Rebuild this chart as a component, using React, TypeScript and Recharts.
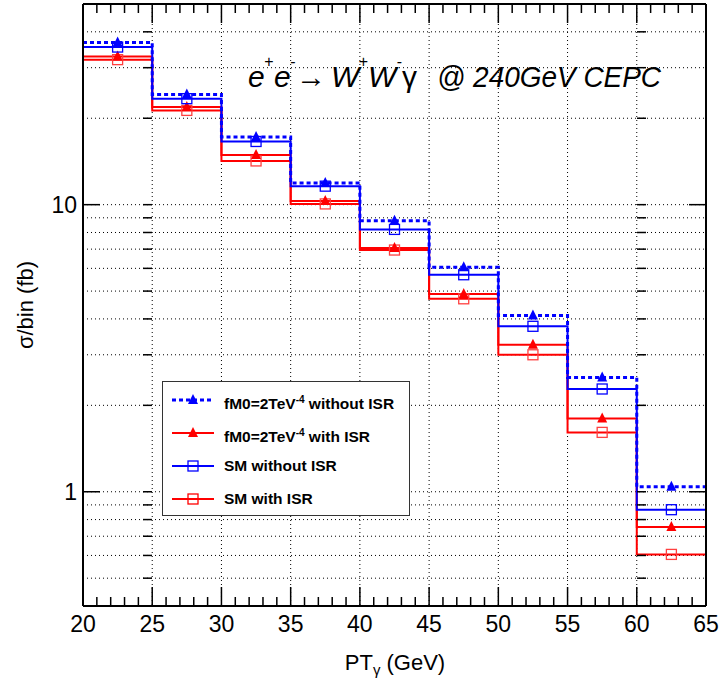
import React from 'react';
import { ComposedChart, Line, XAxis, YAxis, CartesianGrid } from 'recharts';

// bin edges / centres in GeV
const binEdges = [20, 25, 30, 35, 40, 45, 50, 55, 60, 65];
const binCenters = [22.5, 27.5, 32.5, 37.5, 42.5, 47.5, 52.5, 57.5, 62.5];

// sigma per bin (fb)
const fm0NoIsr = [36.7, 24.2, 17.2, 11.9, 8.79, 6.05, 4.11, 2.5, 1.04];
const fm0Isr = [32.8, 21.9, 14.9, 10.3, 7.06, 4.88, 3.25, 1.8, 0.754];
const smNoIsr = [35.4, 23.4, 16.6, 11.6, 8.2, 5.7, 3.77, 2.28, 0.866];
const smIsr = [32.0, 21.3, 14.2, 10.06, 6.95, 4.7, 3.0, 1.61, 0.605];

const xMajorTicks = [20, 25, 30, 35, 40, 45, 50, 55, 60, 65];
const xGridLines = [25, 30, 35, 40, 45, 50, 55, 60];
const xMinorTicks = Array.from({ length: 46 }, (_, i) => 20 + i);
const yMajorTicks = [1, 10];
const yMinorTicks = [0.5, 0.6, 0.7, 0.8, 0.9, 1, 2, 3, 4, 5, 6, 7, 8, 9, 10, 20, 30, 40];

const FONT = '"Liberation Sans", Arial, Helvetica, sans-serif';
const BLUE = '#0000ff';
const RED = '#ff0000';

// plot frame, from the chart margins / axis sizes below
const PLOT_L = 83;
const PLOT_R = 706;
const PLOT_T = 4;
const PLOT_B = 606;

const yDomain: [number, number] = [0.4, 50];
const xDomain: [number, number] = [20, 65];
const xPx = (v: number) => PLOT_L + ((v - xDomain[0]) / (xDomain[1] - xDomain[0])) * (PLOT_R - PLOT_L);

// histogram outline: one point per left edge, last value repeated at the end
const toSteps = (vals: number[]) =>
    binEdges.map((x, i) => ({ x, y: vals[Math.min(i, vals.length - 1)] }));
const toMarkers = (vals: number[]) => binCenters.map((x, i) => ({ x, y: vals[i] }));

const triangle = (color: string) => (p: any) => {
    const { cx, cy, index } = p;
    if (cx == null || cy == null) return <g key={`t${index}`} />;
    return (
        <polygon
            key={`t${index}`}
            points={`${cx},${cy - 6} ${cx - 5},${cy + 4} ${cx + 5},${cy + 4}`}
            fill={color}
        />
    );
};

const square = (color: string) => (p: any) => {
    const { cx, cy, index } = p;
    if (cx == null || cy == null) return <g key={`s${index}`} />;
    return <rect key={`s${index}`} x={cx - 5} y={cy - 5} width={10} height={10} fill="none" stroke={color} strokeWidth={1.3} />;
};

// tick marks only, no label
const NoLabel = () => <g />;

const BottomLabel = (p: any) => (
    <text x={p.x} y={p.y + 10} dy="0.71em" textAnchor="middle" fontSize={23} fontFamily={FONT} fill="#000">
        {p.payload.value}
    </text>
);

const tickStroke = { stroke: '#000', strokeWidth: 1.5 };
const frame = { stroke: '#000', strokeWidth: 2 };
const flat = { dot: false, activeDot: false, isAnimationActive: false, xAxisId: 'x', yAxisId: 'y', dataKey: 'y' } as const;

const LegendRow = ({ top, color, dashed, marker, children }: any) => (
    <div style={{ position: 'absolute', left: 0, top: top - 10, height: 20, width: '100%' }}>
        <svg width={60} height={20} style={{ position: 'absolute', left: 0, top: 0 }}>
            <line x1={9} x2={51} y1={10} y2={10} stroke={color} strokeWidth={dashed ? 3 : 2} strokeDasharray={dashed ? '4 3' : undefined} />
            {marker === 'triangle' ? (
                <polygon points="30,4 25,14 35,14" fill={color} />
            ) : (
                <rect x={25} y={5} width={10} height={10} fill="none" stroke={color} strokeWidth={1.3} />
            )}
        </svg>
        <div style={{ position: 'absolute', left: 61, top: 0, lineHeight: '20px', fontSize: 15.5, fontWeight: 'bold', fontFamily: FONT, whiteSpace: 'nowrap' }}>
            {children}
        </div>
    </div>
);

export default function App() {
    return (
        <div style={{ position: 'absolute', left: 0, top: 0, width: 720, height: 682, background: '#fff' }}>
            {/* vertical grid, x tick marks and top frame, behind the chart */}
            <svg width={720} height={682} style={{ position: 'absolute', left: 0, top: 0 }}>
                {xGridLines.map((g) => (
                    <line key={`g${g}`} x1={xPx(g)} x2={xPx(g)} y1={PLOT_T} y2={PLOT_B} stroke="#000" strokeWidth={1} strokeDasharray="1 3" />
                ))}
                {xMinorTicks.map((t) => {
                    const len = t % 5 === 0 ? 19 : 9;
                    return (
                        <g key={`k${t}`}>
                            <line x1={xPx(t)} x2={xPx(t)} y1={PLOT_B} y2={PLOT_B - len} stroke="#000" strokeWidth={1.5} />
                            <line x1={xPx(t)} x2={xPx(t)} y1={PLOT_T} y2={PLOT_T + len} stroke="#000" strokeWidth={1.5} />
                        </g>
                    );
                })}
                <line x1={PLOT_L} x2={PLOT_R} y1={PLOT_T} y2={PLOT_T} stroke="#000" strokeWidth={2} />
            </svg>

            <ComposedChart width={720} height={682} margin={{ top: PLOT_T, right: 720 - PLOT_R, bottom: 46, left: 0 }}>
                <CartesianGrid xAxisId="x" yAxisId="yMinorL" vertical={false} stroke="#000" strokeDasharray="1 3" strokeWidth={1} />

                <XAxis xAxisId="x" dataKey="x" type="number" domain={xDomain} allowDataOverflow ticks={xMajorTicks} interval={0}
                    tickLine={false} tickSize={0} tickMargin={0} height={30} axisLine={frame} tick={BottomLabel} />

                <YAxis yAxisId="y" type="number" scale="log" domain={yDomain} allowDataOverflow ticks={yMajorTicks} interval={0}
                    tickLine={false} tickSize={0} tickMargin={6} width={PLOT_L} axisLine={frame}
                    tick={{ fill: '#000', fontSize: 23, fontFamily: FONT }} />
                <YAxis yAxisId="yMajL" type="number" scale="log" domain={yDomain} allowDataOverflow ticks={yMajorTicks} interval={0}
                    mirror tickSize={17} tick={NoLabel} axisLine={false} tickLine={tickStroke} />
                <YAxis yAxisId="yMinorL" type="number" scale="log" domain={yDomain} allowDataOverflow ticks={yMinorTicks} interval={0}
                    mirror tickSize={9} tick={NoLabel} axisLine={false} tickLine={tickStroke} />
                <YAxis yAxisId="yMajR" orientation="right" type="number" scale="log" domain={yDomain} allowDataOverflow ticks={yMajorTicks} interval={0}
                    mirror tickSize={17} tick={NoLabel} axisLine={frame} tickLine={tickStroke} />
                <YAxis yAxisId="yMinR" orientation="right" type="number" scale="log" domain={yDomain} allowDataOverflow ticks={yMinorTicks} interval={0}
                    mirror tickSize={9} tick={NoLabel} axisLine={false} tickLine={tickStroke} />

                {/* histogram outlines, red first so blue sits on top */}
                <Line {...flat} data={toSteps(smIsr)} type="stepAfter" stroke={RED} strokeWidth={2} />
                <Line {...flat} data={toSteps(fm0Isr)} type="stepAfter" stroke={RED} strokeWidth={2} />
                <Line {...flat} data={toSteps(smNoIsr)} type="stepAfter" stroke={BLUE} strokeWidth={2} />
                <Line {...flat} data={toSteps(fm0NoIsr)} type="stepAfter" stroke={BLUE} strokeWidth={3} strokeDasharray="4 3" />

                {/* markers at bin centres */}
                <Line {...flat} data={toMarkers(smIsr)} stroke="none" dot={square('#ff4040')} />
                <Line {...flat} data={toMarkers(fm0Isr)} stroke="none" dot={triangle(RED)} />
                <Line {...flat} data={toMarkers(smNoIsr)} stroke="none" dot={square(BLUE)} />
                <Line {...flat} data={toMarkers(fm0NoIsr)} stroke="none" dot={triangle(BLUE)} />
            </ComposedChart>

            {/* titles */}
            <svg width={720} height={682} style={{ position: 'absolute', left: 0, top: 0, pointerEvents: 'none' }}>
                <text y={87} fontFamily={FONT} fontSize={30} fontStyle="italic" fill="#000">
                    <tspan x={248}>e</tspan>
                    <tspan x={264} fontSize={16} dy={-20}>+</tspan>
                    <tspan x={274} dy={20}>e</tspan>
                    <tspan x={290} fontSize={16} dy={-20}>-</tspan>
                    <tspan x={296} dy={20} fontStyle="normal">→</tspan>
                    <tspan x={331}>W</tspan>
                    <tspan x={358.5} fontSize={16} dy={-20}>+</tspan>
                    <tspan x={368} dy={20}>W</tspan>
                    <tspan x={396.5} fontSize={16} dy={-20}>-</tspan>
                    <tspan x={402} dy={20} fontStyle="normal">γ</tspan>
                </text>
                <text x={437} y={87} fontFamily={FONT} fontSize={30} fontStyle="italic" fill="#000"
                    textLength={224} lengthAdjust="spacingAndGlyphs">
                    @ 240GeV CEPC
                </text>
                <text transform="translate(33,305) rotate(-90)" textAnchor="middle" fontFamily={FONT} fontSize={22} fill="#000">
                    σ/bin (fb)
                </text>
                <text x={395} y={670} textAnchor="middle" fontFamily={FONT} fontSize={22} fill="#000">
                    PT<tspan fontSize={15} dy={5}>γ</tspan>
                    <tspan dy={-5}> (GeV)</tspan>
                </text>
            </svg>

            {/* legend box */}
            <div style={{ position: 'absolute', left: 162, top: 381, width: 248, height: 135, border: '1.5px solid #333', background: '#fff', boxSizing: 'border-box' }}>
                <LegendRow top={18} color={BLUE} dashed marker="triangle">
                    fM0=2TeV<sup style={{ fontSize: 10 }}>-4</sup> without ISR
                </LegendRow>
                <LegendRow top={51} color={RED} marker="triangle">
                    fM0=2TeV<sup style={{ fontSize: 10 }}>-4</sup> with ISR
                </LegendRow>
                <LegendRow top={84} color={BLUE} marker="square">
                    SM without ISR
                </LegendRow>
                <LegendRow top={117} color={RED} marker="square">
                    SM with ISR
                </LegendRow>
            </div>
        </div>
    );
}
